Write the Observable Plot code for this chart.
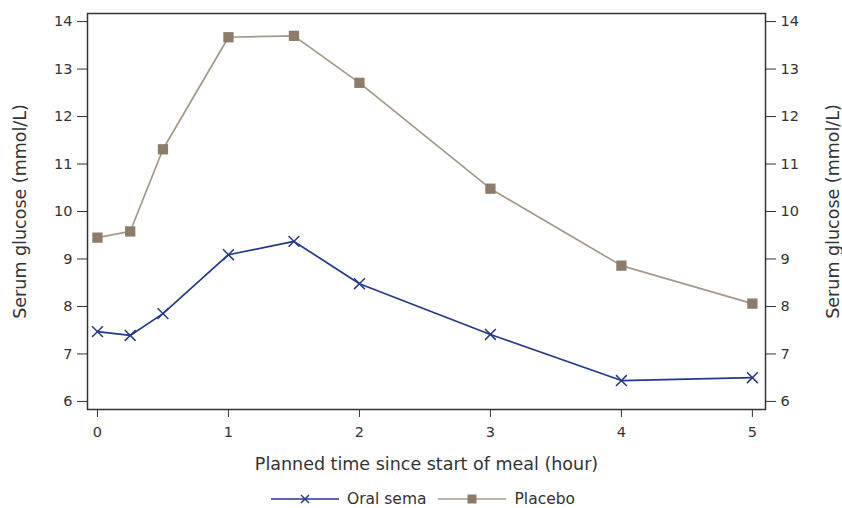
<!DOCTYPE html>
<html>
<head>
<meta charset="utf-8">
<script src="https://cdn.jsdelivr.net/npm/d3@7"></script>
<script src="https://cdn.jsdelivr.net/npm/@observablehq/plot@0.6"></script>
<style>
  body { margin: 0; background: #fff; font-family: "DejaVu Sans", sans-serif; overflow: hidden; }
  #chart svg { display: block; }
  #legend { display: flex; justify-content: center; align-items: center; gap: 12px; font-size: 15.5px; line-height: 16px; color: #333; height: 18px; margin-left: 4px; margin-top: 5px; }
  #legend .item { display: flex; align-items: center; gap: 8px; }
  #legend svg { display: block; }
</style>
</head>
<body>
<div id="chart"></div>
<div id="legend"></div>
<script>
const times = [0, 0.25, 0.5, 1, 1.5, 2, 3, 4, 5];
const oralSema = [7.47, 7.39, 7.85, 9.09, 9.37, 8.48, 7.41, 6.44, 6.50];
const placebo = [9.45, 9.58, 11.31, 13.67, 13.70, 12.71, 10.48, 8.86, 8.06];
const seriesNames = ["Oral sema", "Placebo"];
const yTicks = [6, 7, 8, 9, 10, 11, 12, 13, 14];
const xTicks = [0, 1, 2, 3, 4, 5];

const blue = "#25398c";
const tanLine = "#a69888";
const tanFill = "#8c7c6c";

const semaData = times.map((t, i) => ({t, v: oralSema[i]}));
const placeboData = times.map((t, i) => ({t, v: placebo[i]}));

const chart = Plot.plot({
  width: 842,
  height: 485,
  marginLeft: 87,
  marginRight: 77,
  marginTop: 13,
  marginBottom: 76,
  style: {fontFamily: "DejaVu Sans, sans-serif", fontSize: "14px", color: "#333"},
  x: {domain: [-0.076, 5.10]},
  y: {domain: [5.83, 14.17]},
  marks: [
    Plot.axisY({anchor: "left", ticks: yTicks, tickSize: 10, tickPadding: 5, fontSize: 14.5, label: null, stroke: "#333"}),
    Plot.axisY({anchor: "right", ticks: yTicks, tickSize: 10, tickPadding: 5, fontSize: 14.5, label: null, stroke: "#333"}),
    Plot.axisX({ticks: xTicks, tickFormat: d => String(d), tickSize: 8, tickPadding: 9, fontSize: 14.5, label: null, stroke: "#333"}),
    Plot.text(["Serum glucose (mmol/L)"], {frameAnchor: "left", textAnchor: "middle", rotate: -90, dx: -67, fontSize: 17.5, fill: "#333"}),
    Plot.text(["Serum glucose (mmol/L)"], {frameAnchor: "right", textAnchor: "middle", rotate: -90, dx: 68, fontSize: 17.5, fill: "#333"}),
    Plot.text(["Planned time since start of meal (hour)"], {frameAnchor: "bottom", dy: 60, fontSize: 17.5, fill: "#333"}),
    Plot.frame({stroke: "#333", strokeWidth: 1.5}),
    Plot.line(placeboData, {x: "t", y: "v", stroke: tanLine, strokeWidth: 1.7}),
    Plot.dot(placeboData, {x: "t", y: "v", symbol: "square", r: 5.8, fill: tanFill, stroke: "none"}),
    Plot.line(semaData, {x: "t", y: "v", stroke: blue, strokeWidth: 1.7}),
    Plot.dot(semaData, {x: "t", y: "v", symbol: "times", r: 5, stroke: blue, strokeWidth: 1.5})
  ]
});
document.getElementById("chart").appendChild(chart);

const legend = document.getElementById("legend");
const styles = [
  {stroke: blue, marker: `<path d="M30,-4L38,4M30,4L38,-4" stroke="${blue}" stroke-width="1.5"/>`},
  {stroke: tanLine, marker: `<rect x="29.5" y="-4.5" width="9" height="9" fill="${tanFill}"/>`}
];
seriesNames.forEach((name, i) => {
  const s = styles[i];
  const item = document.createElement("div");
  item.className = "item";
  item.innerHTML = `<svg width="68" height="12" viewBox="0 -6 68 12"><line x1="0" y1="0" x2="68" y2="0" stroke="${s.stroke}" stroke-width="1.5"/>${s.marker}</svg><span>${name}</span>`;
  legend.appendChild(item);
});
</script>
</body>
</html>
